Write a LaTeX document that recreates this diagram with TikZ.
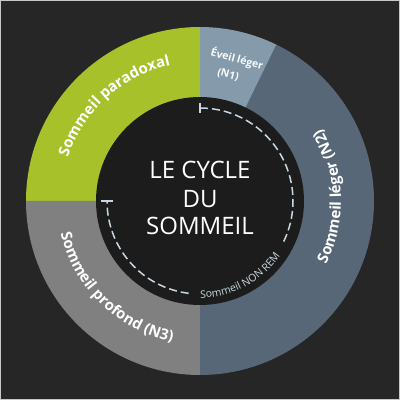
\documentclass[tikz,border=0pt]{standalone}
\usepackage{fontspec}
\setmainfont{Open Sans}
\setsansfont{Open Sans}
\usetikzlibrary{decorations.text,arrows.meta}
\definecolor{bgc}{HTML}{262626}
\definecolor{innerc}{HTML}{1C1C1C}
\definecolor{framec}{HTML}{C8C8C8}
\definecolor{greenc}{HTML}{A6C12A}
\definecolor{grayc}{HTML}{808080}
\definecolor{ntwoc}{HTML}{576778}
\definecolor{nonec}{HTML}{859BAC}
\definecolor{dashc}{HTML}{C8D8E2}
\tikzset{
  ringlabel/.style={decorate, decoration={text along path, text align=center, text={#1}}},
  nremline/.style={draw=dashc, line width=1.5pt, dash pattern=on 8pt off 4pt},
  nrembar/.style={draw=dashc, line width=1.5pt},
  titletext/.style={text=white, font=\fontsize{24}{24}\selectfont, anchor=base, inner sep=0pt},
  nonetext/.style={text=white!95!nonec, font=\fontsize{10.5}{10.5}\selectfont\bfseries, inner sep=0pt, rotate=-15}
}
\begin{document}
\begin{tikzpicture}[x=1pt,y=1pt]
\useasboundingbox (0,0) rectangle (400,400);
\fill[bgc] (0,0) rectangle (400,400);
\draw[framec, line width=1pt] (0.5,0.5) rectangle (399.5,399.5);
\coordinate (c) at (200,199);
% ring segments
\fill[greenc] (c) -- ([shift={(90:174)}]c) arc[start angle=90, end angle=180, radius=174] -- cycle;
\fill[grayc] (c) -- ([shift={(180:174)}]c) arc[start angle=180, end angle=270, radius=174] -- cycle;
\fill[ntwoc] (c) -- ([shift={(270:174)}]c) arc[start angle=270, end angle=424, radius=174] -- cycle;
\fill[nonec] (c) -- ([shift={(64:174)}]c) arc[start angle=64, end angle=90, radius=174] -- cycle;
\fill[innerc] (c) circle[radius=104];
% ring labels
\path[ringlabel={|\fontsize{15}{15}\selectfont\bfseries\color{white}|Sommeil paradoxal}]
  ([shift={(178:139)}]c) arc[start angle=178, end angle=86, radius=139];
\path[ringlabel={|\fontsize{15}{15}\selectfont\bfseries\color{white}|Sommeil léger (N2)}]
  ([shift={(-60:141)}]c) arc[start angle=-60, end angle=64, radius=141];
\path[ringlabel={|\fontsize{15}{15}\selectfont\bfseries\color{white}|Sommeil profond (N3)}]
  ([shift={(160:143)}]c) arc[start angle=160, end angle=292, radius=143];
\node[nonetext] (n1a) at (237,341) {Éveil léger};
\node[nonetext] (n1b) at (228,325) {(N1)};
% title
\node[titletext] (t1) at (200,222) {LE CYCLE};
\node[titletext] (t2) at (200,193) {DU};
\node[titletext] (t3) at (200,165) {SOMMEIL};
% NON REM arc
\coordinate (nremstart) at ([shift={(90:93)}]c);
\coordinate (nremend) at ([shift={(180:93)}]c);
\draw[nremline] (nremstart) arc[start angle=90, end angle=-28, radius=93];
\draw[nremline] ([shift={(-97:93)}]c) arc[start angle=-97, end angle=-180, radius=93];
\draw[nrembar] ([yshift=-5pt]nremstart) -- ([yshift=5pt]nremstart);
\draw[nrembar] ([xshift=-6pt]nremend) -- ([xshift=6pt]nremend);
\path[ringlabel={|\fontsize{10.5}{10.5}\selectfont\color{dashc}|Sommeil NON REM}]
  ([shift={(-120:97)}]c) arc[start angle=-120, end angle=-4, radius=97];
\end{tikzpicture}
\end{document}
